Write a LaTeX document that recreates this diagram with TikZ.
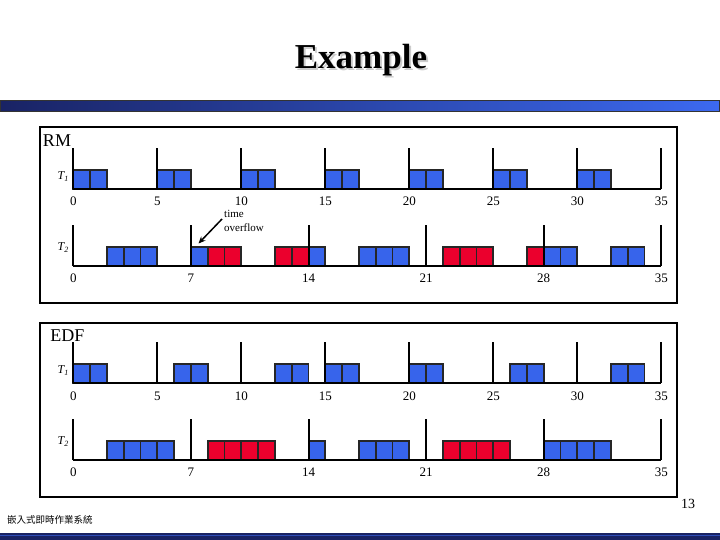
\documentclass[tikz,border=0pt]{standalone}
\usepackage{fontspec}
\setmainfont{Liberation Serif}
\newfontfamily\cjk{Noto Sans CJK TC}
\usepackage{xcolor}
\usetikzlibrary{arrows.meta}
\definecolor{slotblue}{RGB}{55,100,235}
\definecolor{slotred}{RGB}{235,0,45}
\definecolor{barnavy}{RGB}{25,35,100}
\definecolor{barblue}{RGB}{60,105,240}
\newcommand{\jobs}[2]{\foreach \t in {#2} {\draw[slot, fill=#1] (\t,0) rectangle ++(1,-19.3);}}

\begin{document}
\begin{tikzpicture}[x=1pt, y=-1pt,
    slot/.style={draw=black!85, line width=1.9pt},
    axis/.style={black, line width=2pt},
    tlabel/.style={anchor=base, inner sep=0pt, font=\fontsize{13}{13}\selectfont},
    tname/.style={inner sep=0pt, font=\fontsize{12}{12}\selectfont\itshape},
    frame/.style={rectangle, draw, line width=1.8pt, minimum width=637pt}]
		\useasboundingbox (0,0) rectangle (720,540);

		% Title and bars
		\node[anchor=base, text=gray!40, font=\fontsize{35}{40}\selectfont\bfseries] (title_shadow) at (363,71) {Example};
		\node[anchor=base, font=\fontsize{35}{40}\selectfont\bfseries] (title) at (361,69) {Example};
		\draw[left color=barnavy, right color=barblue, draw=black!80, line width=1pt] (0.5,101) rectangle (719.5,112);
		\fill[barnavy] (0,533) rectangle (720,540);
		\draw[barblue!60!barnavy, line width=1.2pt] (0,535.5) -- (720,535.5);

		% RM schedule
		\node (rm_frame) at (358.5,215) [frame, minimum height=176pt] {};
		\node[font=\fontsize{18}{18}\selectfont] (rm_label) at (57,141) {RM};

		\begin{scope}[xshift=73.3pt, yshift=-189.3pt, x=16.8pt]
			\jobs{slotblue}{0,1,5,6,10,11,15,16,20,21,25,26,30,31}
			\draw[axis] (0,0) -- (35,0);
			\foreach \t in {0,5,...,35} {
				\draw[axis] (\t,0) -- (\t,-41);
				\node[tlabel] (rm1_\t) at (\t,16.7) {\t};
			}
			\node[tname] (rm1_name) at (-0.6,-12.5) {T\textsubscript{1}};
		\end{scope}

		\begin{scope}[xshift=73.3pt, yshift=-266pt, x=16.8pt]
			\jobs{slotblue}{2,3,4,7,14,17,18,19,28,29,32,33}
			\jobs{slotred}{8,9,12,13,22,23,24,27}
			\draw[axis] (0,0) -- (35,0);
			\foreach \t in {0,7,...,35} {
				\draw[axis] (\t,0) -- (\t,-41);
				\node[tlabel] (rm2_\t) at (\t,16.7) {\t};
			}
			\node[tname] (rm2_name) at (-0.6,-18.5) {T\textsubscript{2}};
		\end{scope}

		\node[anchor=west, align=left, inner sep=0pt, font=\fontsize{11}{14}\selectfont] (ovf_text) at (224,221) {time\\overflow};
		\coordinate (ovf_tip) at (198.5,243.5);
		\draw[-{Stealth[length=7pt,width=6pt]}, line width=1.5pt] ([xshift=-2pt,yshift=2pt]ovf_text.west) -- (ovf_tip);

		% EDF schedule
		\node (edf_frame) at (358.5,410) [frame, minimum height=174pt] {};
		\node[font=\fontsize{18}{18}\selectfont] (edf_label) at (67.5,336) {EDF};

		\begin{scope}[xshift=73.3pt, yshift=-383.3pt, x=16.8pt]
			\jobs{slotblue}{0,1,6,7,12,13,15,16,20,21,26,27,32,33}
			\draw[axis] (0,0) -- (35,0);
			\foreach \t in {0,5,...,35} {
				\draw[axis] (\t,0) -- (\t,-41);
				\node[tlabel] (edf1_\t) at (\t,16.7) {\t};
			}
			\node[tname] (edf1_name) at (-0.6,-12.5) {T\textsubscript{1}};
		\end{scope}

		\begin{scope}[xshift=73.3pt, yshift=-460pt, x=16.8pt]
			\jobs{slotblue}{2,3,4,5,14,17,18,19,28,29,30,31}
			\jobs{slotred}{8,9,10,11,22,23,24,25}
			\draw[axis] (0,0) -- (35,0);
			\foreach \t in {0,7,...,35} {
				\draw[axis] (\t,0) -- (\t,-41);
				\node[tlabel] (edf2_\t) at (\t,16.7) {\t};
			}
			\node[tname] (edf2_name) at (-0.6,-18.5) {T\textsubscript{2}};
		\end{scope}

		% Footer
		\node[font=\fontsize{14}{14}\selectfont] (page_no) at (688,504) {13};
		\node[anchor=west, inner sep=0pt, font=\cjk\fontsize{9.5}{9.5}\selectfont] (footer) at (7,520) {嵌入式即時作業系統};
\end{tikzpicture}
\end{document}
